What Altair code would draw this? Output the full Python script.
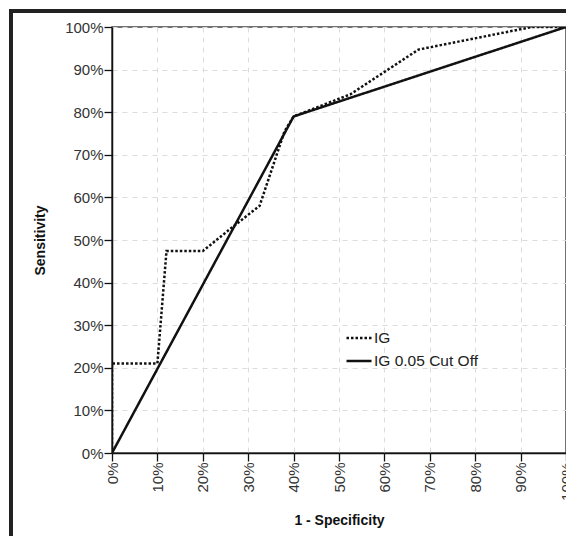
import altair as alt
import pandas as pd

# IG (dotted) ROC curve, values in percent
ig_x = [0, 0, 10, 12, 20, 26.5, 32.5, 38, 40, 52.5, 67.5, 92.5, 100]
ig_y = [0, 21, 21, 47.4, 47.4, 53, 58, 75.5, 79, 84.2, 94.7, 100, 100]
# IG 0.05 cut off (solid)
cut_x = [0, 40, 100]
cut_y = [0, 79, 100]

series_names = ["IG", "IG 0.05 Cut Off"]
tick_vals = [i / 10 for i in range(11)]

rows = []
for i, (x, y) in enumerate(zip(ig_x, ig_y)):
    rows.append({"series": series_names[0], "x": x / 100, "y": y / 100, "o": i})
for i, (x, y) in enumerate(zip(cut_x, cut_y)):
    rows.append({"series": series_names[1], "x": x / 100, "y": y / 100, "o": i})
df = pd.DataFrame(rows)

lines = alt.Chart(df).mark_line(strokeWidth=2.5, color="#111", clip=True).encode(
    x=alt.X("x:Q", scale=alt.Scale(domain=[0, 1], nice=False),
            axis=alt.Axis(values=tick_vals, format=".0%", labelAngle=-90,
                          title="1 - Specificity", titleY=67, titleBaseline="middle")),
    y=alt.Y("y:Q", scale=alt.Scale(domain=[0, 1], nice=False),
            axis=alt.Axis(values=tick_vals, format=".0%", title="Sensitivity",
                          titleX=-72, titleBaseline="middle")),
    strokeDash=alt.StrokeDash("series:N",
        scale=alt.Scale(domain=series_names, range=[[2.5, 2], [1, 0]]),
        legend=alt.Legend(title=None, orient="none", legendX=233, legendY=297,
                          symbolType="stroke", symbolSize=625, symbolStrokeWidth=2.5,
                          symbolStrokeColor="#111", labelFontSize=15.5,
                          labelColor="#222", rowPadding=-11, labelOffset=1)),
    order="o:Q",
)

frame_left = alt.Chart(df).mark_rule(color="#222", strokeWidth=3).encode(
    x=alt.value(-101.3), y=alt.value(-16.5), y2=alt.value(700))
frame_top = alt.Chart(df).mark_rule(color="#222", strokeWidth=3).encode(
    x=alt.value(-102.8), x2=alt.value(700), y=alt.value(-16.3))

chart = alt.layer(lines, frame_left, frame_top).properties(
    width=454, height=426,
    autosize=alt.AutoSizeParams(type="none"),
    padding={"left": 104, "top": 19, "right": 0, "bottom": 90},
).configure(font="Liberation Sans").configure_view(
    stroke="#444", strokeWidth=1.5
).configure_axis(
    domainColor="#111", domainWidth=1.5, tickColor="#111", tickWidth=1.3,
    tickSize=8, labelPadding=1, labelFontSize=15, labelColor="#333",
    gridColor="#dcdcdc", gridDash=[5, 5], gridWidth=1,
    titleFontSize=14, titleFontWeight="bold", titleColor="#111",
)

chart.save("out.html", embed_options={"renderer": "svg", "actions": False})
